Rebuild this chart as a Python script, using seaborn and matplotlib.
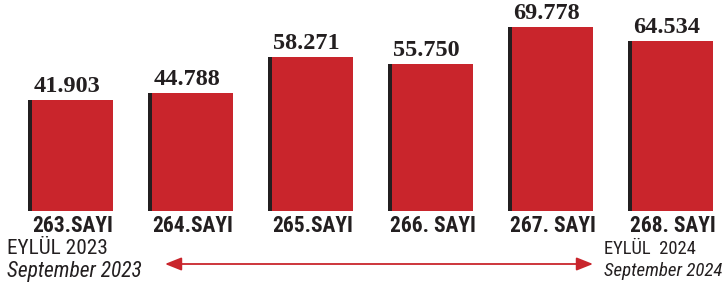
import numpy as np
import matplotlib
matplotlib.use("Agg")
import matplotlib.pyplot as plt
import seaborn as sns

# readers per issue (thousands separator is "." in the original)
issues = ["263.SAYI", "264.SAYI", "265.SAYI", "266. SAYI", "267. SAYI", "268. SAYI"]
readers = [41903, 44788, 58271, 55750, 69778, 64534]
start_label = ["EYLÜL 2023", "September 2023"]
end_label = ["EYLÜL  2024", "September 2024"]

RED = "#c9252c"
DARK = "#231f20"
narrow = ["Roboto Condensed", "Liberation Sans Narrow", "Roboto", "DejaVu Sans"]
serif = ["Liberation Serif", "DejaVu Serif"]

sns.set_style("white")

fig = plt.figure(figsize=(7.24, 2.86), dpi=100)
ax = fig.add_axes([0, 75 / 286, 1, 211 / 286])

bar_w = 81 / 120
sns.barplot(x=issues, y=readers, color=RED, width=bar_w, saturation=1, ax=ax,
            linewidth=0, zorder=3)

# dark stripe on the left side of each bar
pos = np.arange(len(readers))
ax.bar(pos - bar_w / 2 - 4 / 120, readers, width=4.5 / 120, align="edge", color=DARK,
       linewidth=0, zorder=2)

for i, v in enumerate(readers):
    ax.annotate(f"{v:,}".replace(",", "."), xy=(i - 0.05, v), xytext=(0, 8),
                textcoords="offset pixels", ha="center", va="baseline",
                fontsize=17.5, fontweight="bold", family=serif, color=DARK)

ax.set_xlim(-72.5 / 120, -72.5 / 120 + 724 / 120)
ax.set_ylim(0, 80000)
ax.set_yticks([])
ax.set_ylabel("")
sns.despine(ax=ax, left=True, bottom=True)
ax.tick_params(axis="x", length=0, pad=3)
ax.set_xticks(pos)
ax.set_xticklabels(issues, fontsize=15.5, fontweight="bold", family=narrow, color=DARK)

# period labels under the bars
fig.text(7 / 724, 32 / 286, start_label[0], fontsize=15.3, family=narrow, color=DARK, va="baseline")
fig.text(7 / 724, 9 / 286, start_label[1], fontsize=15.5, family=narrow, style="italic",
         color=DARK, va="baseline")
fig.text(604 / 724, 32 / 286, end_label[0], fontsize=13.4, family=narrow, color=DARK, va="baseline")
fig.text(604 / 724, 10 / 286, end_label[1], fontsize=13.6, family=narrow, style="italic",
         color=DARK, va="baseline")

ax.annotate("", xy=(593 / 724, 22 / 286), xytext=(165 / 724, 22 / 286),
            xycoords="figure fraction", textcoords="figure fraction",
            arrowprops=dict(arrowstyle="<|-|>,head_length=1.0,head_width=0.4",
                            color=RED, lw=1.3, shrinkA=0, shrinkB=0))

fig.savefig("out.png", dpi=100)
